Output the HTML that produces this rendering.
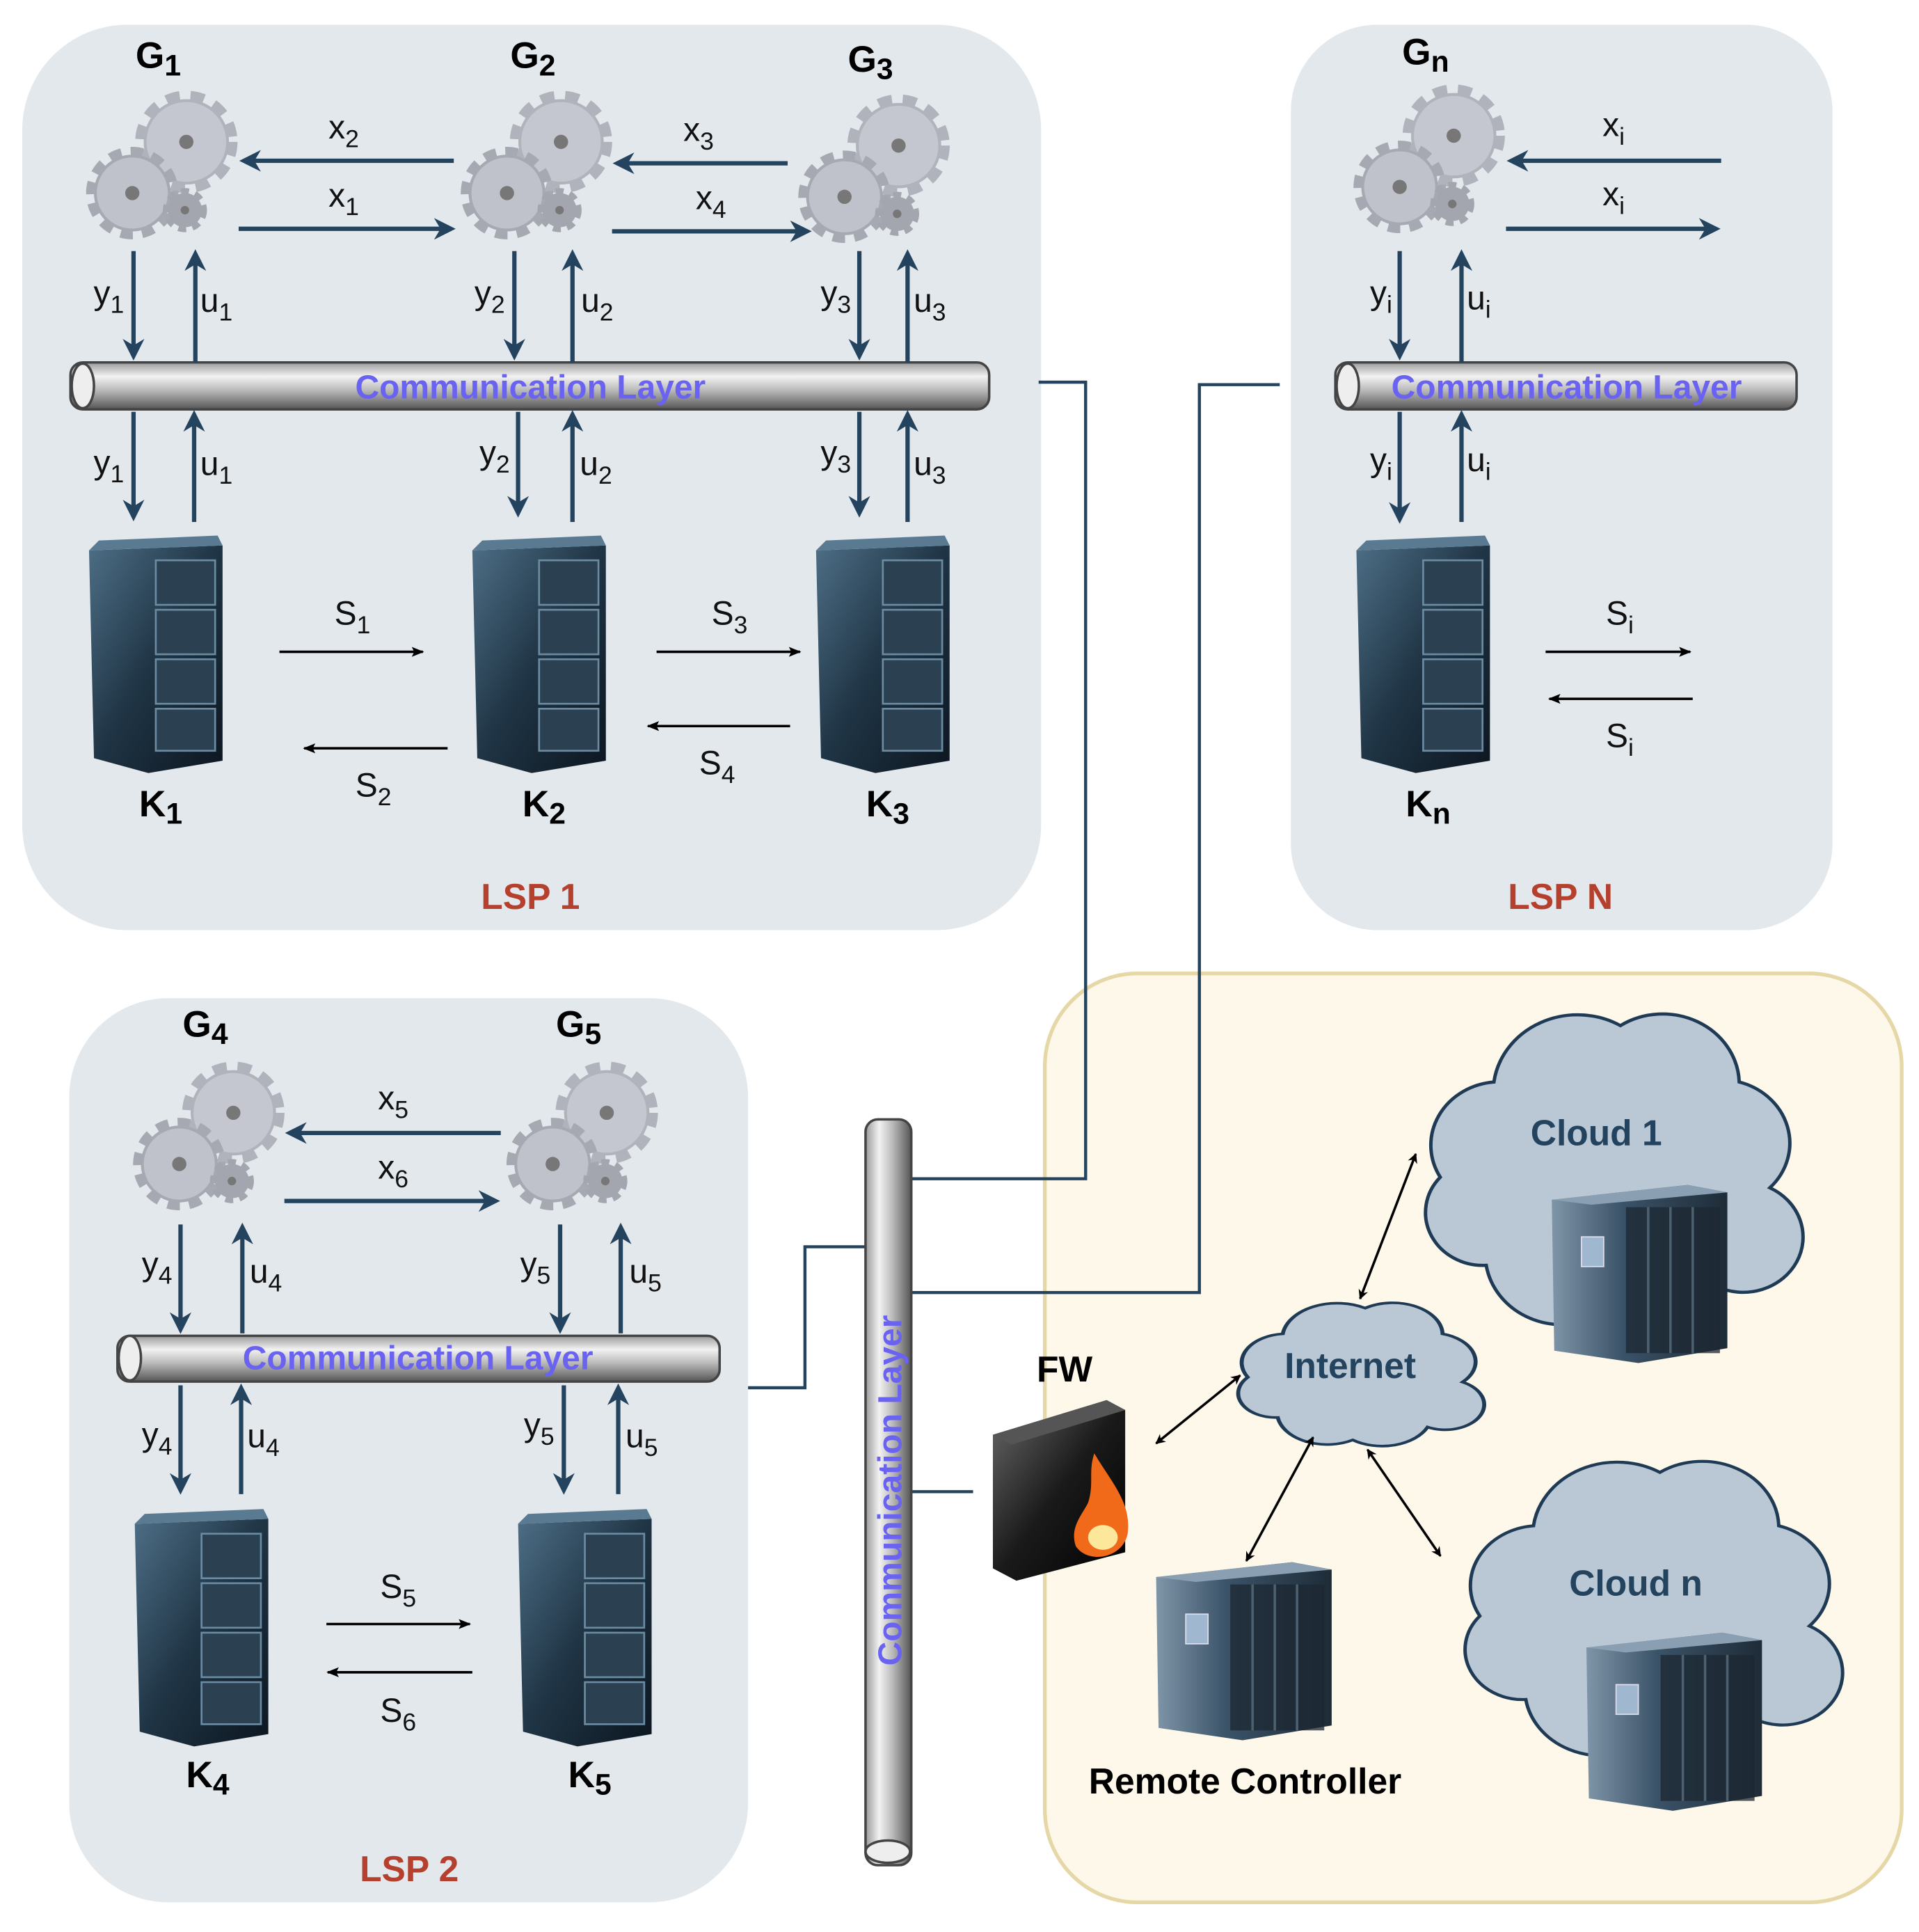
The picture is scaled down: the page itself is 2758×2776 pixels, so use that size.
<!DOCTYPE html>
<html><head><meta charset="utf-8"><style>
html,body{margin:0;padding:0;background:#fff;}
svg{display:block;}
text{font-family:"Liberation Sans",sans-serif;}
</style></head><body>
<svg width="2758" height="2776" viewBox="0 0 1552 1562" preserveAspectRatio="none" xmlns="http://www.w3.org/2000/svg">
<defs>
<linearGradient id="pipe" x1="0" y1="0" x2="0" y2="1">
<stop offset="0" stop-color="#9a9a9a"/><stop offset="0.3" stop-color="#f2f2f2"/><stop offset="0.6" stop-color="#b8b8b8"/><stop offset="1" stop-color="#555"/></linearGradient>
<linearGradient id="pipev" x1="0" y1="0" x2="1" y2="0">
<stop offset="0" stop-color="#9a9a9a"/><stop offset="0.3" stop-color="#f2f2f2"/><stop offset="0.6" stop-color="#b8b8b8"/><stop offset="1" stop-color="#555"/></linearGradient>
<linearGradient id="srv" x1="0" y1="0" x2="1" y2="1">
<stop offset="0" stop-color="#4d6e86"/><stop offset="0.5" stop-color="#1f3444"/><stop offset="1" stop-color="#0c1620"/></linearGradient>
<linearGradient id="big" x1="0" y1="0" x2="1" y2="0">
<stop offset="0" stop-color="#7f95a8"/><stop offset="0.4" stop-color="#3b5368"/><stop offset="1" stop-color="#1e2c38"/></linearGradient>
<linearGradient id="fw" x1="0" y1="0" x2="1" y2="1">
<stop offset="0" stop-color="#6a6a6a"/><stop offset="0.5" stop-color="#1a1a1a"/><stop offset="1" stop-color="#000"/></linearGradient>
<marker id="ab" viewBox="0 0 10 10" refX="8" refY="5" markerWidth="5" markerHeight="5" orient="auto"><path d="M0,0 L10,5 L0,10 L3,5 Z" fill="#24435e"/></marker>
<marker id="ak" viewBox="0 0 10 10" refX="9" refY="5" markerWidth="8" markerHeight="8" orient="auto-start-reverse" markerUnits="userSpaceOnUse"><path d="M0,0 L10,5 L0,10 L3,5 Z" fill="#000"/></marker>
<marker id="ak2" viewBox="0 0 10 10" refX="9" refY="5" markerWidth="12" markerHeight="10" orient="auto" markerUnits="userSpaceOnUse"><path d="M0,1 L10,5 L0,9 L2,5 Z" fill="#000"/></marker>
<g id="gear0">
<circle cx="18" cy="-22" r="30" fill="#b0b3bb" stroke="#b0b3bb" stroke-width="12" stroke-dasharray="9 7"/>
<circle cx="18" cy="-22" r="28" fill="#c4c7cf"/><circle cx="18" cy="-22" r="5" fill="#777"/>
<circle cx="-20" cy="14" r="27" fill="#a6a9b1" stroke="#a6a9b1" stroke-width="11" stroke-dasharray="8 6"/>
<circle cx="-20" cy="14" r="25" fill="#bfc2ca"/><circle cx="-20" cy="14" r="5" fill="#777"/>
<circle cx="17" cy="26" r="12" fill="#a3a6ae" stroke="#a3a6ae" stroke-width="7" stroke-dasharray="5 4"/>
<circle cx="17" cy="26" r="3" fill="#777"/>
</g>
<g id="gear"><use href="#gear0" transform="scale(1.15)"/></g>
<g id="tower">
<path d="M-56,-80 L52,-84 L52,90 L-8,100 L-52,88 Z" fill="url(#srv)"/>
<path d="M-56,-80 L52,-84 L48,-92 L-48,-88 Z" fill="#5a7a92"/>
<rect x="-2" y="-72" width="48" height="36" fill="#2b4152" stroke="#6b8ba2" stroke-width="1.5"/>
<rect x="-2" y="-32" width="48" height="36" fill="#2b4152" stroke="#6b8ba2" stroke-width="1.5"/>
<rect x="-2" y="8" width="48" height="36" fill="#2b4152" stroke="#6b8ba2" stroke-width="1.5"/>
<rect x="-2" y="48" width="48" height="34" fill="#2b4152" stroke="#6b8ba2" stroke-width="1.5"/>
</g>
<g id="bigsrv">
<path d="M-70,-60 L40,-72 L72,-66 L72,60 L0,72 L-68,62 Z" fill="url(#big)"/>
<path d="M-70,-60 L40,-72 L72,-66 L-38,-56 Z" fill="#8aa0b2"/>
<rect x="-46" y="-30" width="18" height="24" fill="#9fb8d0" stroke="#dde" stroke-width="1"/>
<rect x="-10" y="-54" width="76" height="118" fill="#1c2731" opacity="0.75"/>
<path d="M8,-54 V64 M26,-54 V64 M44,-54 V64" stroke="#4d6070" stroke-width="2"/>
</g>
<path id="cloud" d="M20,80 A15,15 0 0 1 8,55 A18,18 0 0 1 22,28 A22,22 0 0 1 55,12 A20,20 0 0 1 86,28 A18,18 0 0 1 94,58 A15,15 0 0 1 80,86 A20,20 0 0 1 50,94 A20,20 0 0 1 20,80 Z"/>
</defs>

<rect x="18" y="20" width="824" height="732" rx="85" fill="#e3e8ed"/>
<rect x="1044" y="20" width="438" height="732" rx="70" fill="#e3e8ed"/>
<rect x="56" y="807" width="549" height="731" rx="80" fill="#e3e8ed"/>
<rect x="845" y="787" width="693" height="751" rx="75" fill="#fdf8ea" stroke="#e6d7a6" stroke-width="3"/>

<g fill="none" stroke="#24435e" stroke-width="2.5">
<path d="M840,309 H878 V953 H737"/>
<path d="M1035,311 H970 V1045 H737"/>
<path d="M605,1122 H651 V1008 H700"/>
<path d="M737,1206 H787"/>
</g>

<use href="#gear" x="130" y="140"/>
<use href="#gear" x="433" y="140"/>
<use href="#gear" x="706" y="143"/>
<use href="#gear" x="1155" y="135"/>
<use href="#gear" x="168" y="925"/>
<use href="#gear" x="470" y="925"/>

<use href="#tower" x="128" y="525"/>
<use href="#tower" x="438" y="525"/>
<use href="#tower" x="716" y="525"/>
<use href="#tower" x="1153" y="525"/>
<use href="#tower" x="165" y="1312"/>
<use href="#tower" x="475" y="1312"/>

<rect x="57" y="293" width="743" height="38" rx="10" fill="url(#pipe)" stroke="#444" stroke-width="2"/>
<ellipse cx="67" cy="312" rx="9" ry="18" fill="#eee" stroke="#444" stroke-width="2"/>
<rect x="1080" y="293" width="373" height="38" rx="10" fill="url(#pipe)" stroke="#444" stroke-width="2"/>
<ellipse cx="1090" cy="312" rx="9" ry="18" fill="#eee" stroke="#444" stroke-width="2"/>
<rect x="95" y="1080" width="487" height="37" rx="10" fill="url(#pipe)" stroke="#444" stroke-width="2"/>
<ellipse cx="105" cy="1098" rx="9" ry="18" fill="#eee" stroke="#444" stroke-width="2"/>
<rect x="700" y="905" width="37" height="603" rx="10" fill="url(#pipev)" stroke="#444" stroke-width="2"/>
<ellipse cx="718" cy="1497" rx="18" ry="9" fill="#eee" stroke="#444" stroke-width="2"/>
<g fill="#6a62f0" font-size="27" font-weight="bold" text-anchor="middle">
<text x="429" y="322">Communication Layer</text>
<text x="1267" y="322">Communication Layer</text>
<text x="338" y="1107">Communication Layer</text>
<text x="0" y="0" transform="translate(729,1205) rotate(-90)">Communication Layer</text>
</g>

<g stroke="#24435e" stroke-width="3.5" marker-end="url(#ab)" fill="none">
<path d="M367,130 H197"/><path d="M193,185 H365"/>
<path d="M637,132 H499"/><path d="M495,187 H653"/>
<path d="M1392,130 H1222"/><path d="M1218,185 H1388"/>
<path d="M405,916 H234"/><path d="M230,971 H401"/>
<path d="M108,203 V288"/><path d="M158,293 V205"/>
<path d="M108,333 V418"/><path d="M157,422 V335"/>
<path d="M416,203 V288"/><path d="M463,293 V205"/>
<path d="M419,333 V415"/><path d="M463,422 V335"/>
<path d="M695,203 V288"/><path d="M734,293 V205"/>
<path d="M695,333 V415"/><path d="M734,422 V335"/>
<path d="M1132,203 V288"/><path d="M1182,293 V205"/>
<path d="M1132,333 V420"/><path d="M1182,422 V335"/>
<path d="M146,990 V1075"/><path d="M196,1078 V992"/>
<path d="M453,990 V1075"/><path d="M502,1078 V992"/>
<path d="M146,1120 V1205"/><path d="M195,1208 V1122"/>
<path d="M456,1120 V1205"/><path d="M500,1208 V1122"/>
</g>

<g stroke="#000" stroke-width="2" marker-end="url(#ak2)">
<path d="M226,527 H342"/><path d="M362,605 H246"/>
<path d="M531,527 H647"/><path d="M639,587 H524"/>
<path d="M1250,527 H1367"/><path d="M1369,565 H1253"/>
<path d="M264,1313 H380"/><path d="M382,1352 H265"/>
</g>

<g font-size="27" fill="#111" text-anchor="middle">
<text x="278" y="112">x<tspan font-size="20" dy="7">2</tspan></text>
<text x="278" y="167">x<tspan font-size="20" dy="7">1</tspan></text>
<text x="565" y="114">x<tspan font-size="20" dy="7">3</tspan></text>
<text x="575" y="169">x<tspan font-size="20" dy="7">4</tspan></text>
<text x="1305" y="110">x<tspan font-size="20" dy="7">i</tspan></text>
<text x="1305" y="166">x<tspan font-size="20" dy="7">i</tspan></text>
<text x="318" y="897">x<tspan font-size="20" dy="7">5</tspan></text>
<text x="318" y="953">x<tspan font-size="20" dy="7">6</tspan></text>
<text x="88" y="246">y<tspan font-size="20" dy="7">1</tspan></text>
<text x="175" y="252">u<tspan font-size="20" dy="7">1</tspan></text>
<text x="88" y="383">y<tspan font-size="20" dy="7">1</tspan></text>
<text x="175" y="384">u<tspan font-size="20" dy="7">1</tspan></text>
<text x="396" y="246">y<tspan font-size="20" dy="7">2</tspan></text>
<text x="483" y="252">u<tspan font-size="20" dy="7">2</tspan></text>
<text x="400" y="375">y<tspan font-size="20" dy="7">2</tspan></text>
<text x="482" y="384">u<tspan font-size="20" dy="7">2</tspan></text>
<text x="676" y="246">y<tspan font-size="20" dy="7">3</tspan></text>
<text x="752" y="252">u<tspan font-size="20" dy="7">3</tspan></text>
<text x="676" y="375">y<tspan font-size="20" dy="7">3</tspan></text>
<text x="752" y="384">u<tspan font-size="20" dy="7">3</tspan></text>
<text x="1117" y="246">y<tspan font-size="20" dy="7">i</tspan></text>
<text x="1196" y="250">u<tspan font-size="20" dy="7">i</tspan></text>
<text x="1117" y="381">y<tspan font-size="20" dy="7">i</tspan></text>
<text x="1196" y="381">u<tspan font-size="20" dy="7">i</tspan></text>
<text x="127" y="1031">y<tspan font-size="20" dy="7">4</tspan></text>
<text x="215" y="1037">u<tspan font-size="20" dy="7">4</tspan></text>
<text x="433" y="1031">y<tspan font-size="20" dy="7">5</tspan></text>
<text x="522" y="1037">u<tspan font-size="20" dy="7">5</tspan></text>
<text x="127" y="1169">y<tspan font-size="20" dy="7">4</tspan></text>
<text x="213" y="1170">u<tspan font-size="20" dy="7">4</tspan></text>
<text x="436" y="1161">y<tspan font-size="20" dy="7">5</tspan></text>
<text x="519" y="1170">u<tspan font-size="20" dy="7">5</tspan></text>
<text x="285" y="505">S<tspan font-size="20" dy="7">1</tspan></text>
<text x="302" y="644">S<tspan font-size="20" dy="7">2</tspan></text>
<text x="590" y="505">S<tspan font-size="20" dy="7">3</tspan></text>
<text x="580" y="626">S<tspan font-size="20" dy="7">4</tspan></text>
<text x="1310" y="505">S<tspan font-size="20" dy="7">i</tspan></text>
<text x="1310" y="604">S<tspan font-size="20" dy="7">i</tspan></text>
<text x="322" y="1292">S<tspan font-size="20" dy="7">5</tspan></text>
<text x="322" y="1392">S<tspan font-size="20" dy="7">6</tspan></text>
</g>
<g font-size="30" font-weight="bold" fill="#000" text-anchor="middle">
<text x="128" y="55">G<tspan font-size="24" dy="6">1</tspan></text>
<text x="431" y="55">G<tspan font-size="24" dy="6">2</tspan></text>
<text x="704" y="58">G<tspan font-size="24" dy="6">3</tspan></text>
<text x="1153" y="52">G<tspan font-size="24" dy="6">n</tspan></text>
<text x="166" y="838">G<tspan font-size="24" dy="6">4</tspan></text>
<text x="468" y="838">G<tspan font-size="24" dy="6">5</tspan></text>
<text x="130" y="660">K<tspan font-size="24" dy="6">1</tspan></text>
<text x="440" y="660">K<tspan font-size="24" dy="6">2</tspan></text>
<text x="718" y="660">K<tspan font-size="24" dy="6">3</tspan></text>
<text x="1155" y="660">K<tspan font-size="24" dy="6">n</tspan></text>
<text x="168" y="1445">K<tspan font-size="24" dy="6">4</tspan></text>
<text x="477" y="1445">K<tspan font-size="24" dy="6">5</tspan></text>
</g>
<g font-size="29" font-weight="bold" fill="#b5402e" text-anchor="middle">
<text x="429" y="735">LSP 1</text>
<text x="1262" y="735">LSP N</text>
<text x="331" y="1521">LSP 2</text>
</g>

<use href="#cloud" transform="translate(1140,795) scale(3.1,2.85)" fill="#b9c8d4" stroke="#1f3a55" stroke-width="0.9"/>
<use href="#cloud" transform="translate(1172,1158) scale(3.1,2.7)" fill="#b9c8d4" stroke="#1f3a55" stroke-width="0.9"/>
<use href="#cloud" transform="translate(993,1042) scale(2.02,1.3)" fill="#b9c8d4" stroke="#1f3a55" stroke-width="1.6"/>
<use href="#bigsrv" x="1325" y="1030"/>
<use href="#bigsrv" x="1353" y="1392"/>
<use href="#bigsrv" x="1005" y="1335"/>
<g font-size="29" font-weight="bold" fill="#24435e" text-anchor="middle">
<text x="1291" y="926">Cloud 1</text>
<text x="1323" y="1290">Cloud n</text>
<text x="1092" y="1114">Internet</text>
</g>
<path d="M803,1160 L895,1132 L910,1140 L910,1255 L822,1278 L803,1268 Z" fill="url(#fw)"/>
<path d="M803,1160 L895,1132 L910,1140 L818,1168 Z" fill="#555"/>
<path d="M885,1175 C900,1200 915,1215 912,1240 C908,1260 880,1265 870,1250 C865,1235 875,1225 880,1215 C885,1200 880,1190 885,1175 Z" fill="#f06a1a"/>
<ellipse cx="892" cy="1243" rx="12" ry="10" fill="#fde79a"/>
<text x="861" y="1117" font-size="29" font-weight="bold" text-anchor="middle">FW</text>
<text x="1007" y="1450" font-size="29" font-weight="bold" text-anchor="middle">Remote Controller</text>
<g stroke="#000" stroke-width="2" marker-start="url(#ak)" marker-end="url(#ak)">
<path d="M1145,933 L1100,1050"/>
<path d="M1003,1112 L935,1167"/>
<path d="M1062,1162 L1008,1262"/>
<path d="M1106,1172 L1165,1258"/>
</g>
</svg>
</body></html>
